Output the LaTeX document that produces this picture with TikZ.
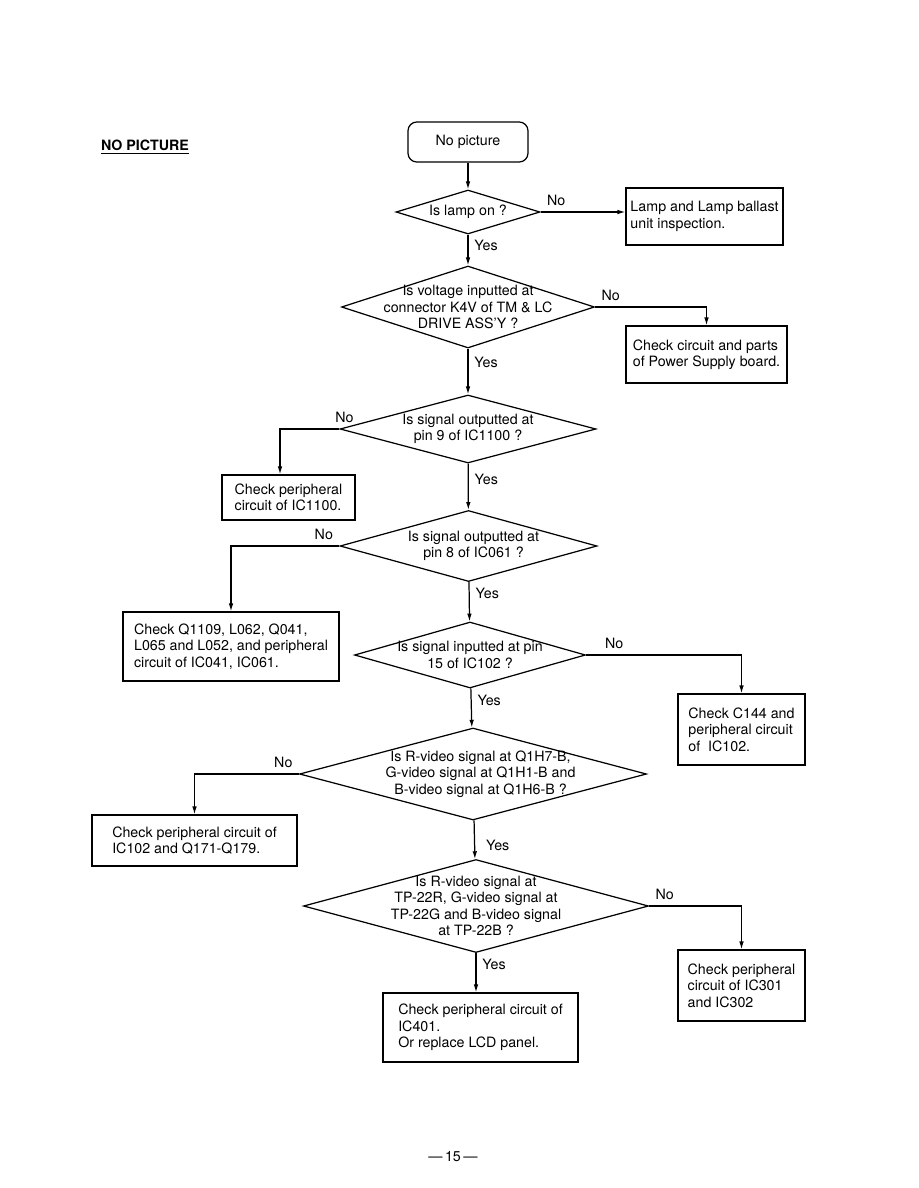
\documentclass[tikz,border=0pt]{standalone}
\usepackage{fontspec}
\setmainfont{TeX Gyre Heros}
\usetikzlibrary{arrows.meta,shapes.geometric}

\begin{document}
\begin{tikzpicture}[>={Latex[length=4.5pt,width=2.6pt]}, line width=0.7pt,
  font=\fontsize{8.1}{9.4}\selectfont,
  startbox/.style={draw, rounded corners=5pt, minimum width=2.4cm, minimum height=0.8cm},
  decision/.style 2 args={draw, diamond, inner sep=0pt, minimum width=#1, minimum height=#2},
  check/.style={draw, align=left, inner sep=0pt}]
  \useasboundingbox (0,0) rectangle (18.36,-23.76);
  \node (title) at (2.9,-2.94) {\bfseries\underline{NO PICTURE}};
  \node[startbox] (start) at (9.36,-2.84) {No picture};
  % questions
  \node[decision={2.88cm}{0.88cm}, label={center:Is lamp on ?}] (lamp) at (9.36,-4.24) {};
  \node[decision={5.06cm}{1.64cm}, label={[align=center]center:Is voltage inputted at\\connector K4V of TM \& LC\\DRIVE ASS'Y ?}] (volt) at (9.36,-6.14) {};
  \node[decision={5.12cm}{1.36cm}, label={[align=center]center:Is signal outputted at\\pin 9 of IC1100 ?}] (ic1100) at (9.36,-8.58) {};
  \node[decision={5.14cm}{1.42cm}, label={[align=center,xshift=0.1cm]center:Is signal outputted at\\pin 8 of IC061 ?}] (ic061) at (9.37,-10.92) {};
  \node[decision={4.62cm}{1.32cm}, label={[align=center]center:Is signal inputted at pin\\15 of IC102 ?}] (ic102) at (9.40,-13.10) {};
  \node[decision={6.94cm}{1.84cm}, label={[align=center,xshift=0.15cm]center:Is R-video signal at Q1H7-B,\\G-video signal at Q1H1-B and\\B-video signal at Q1H6-B ?}] (qvideo) at (9.46,-15.48) {};
  \node[decision={6.90cm}{1.86cm}, label={[align=center]center:Is R-video signal at\\TP-22R, G-video signal at\\TP-22G and B-video signal\\at TP-22B ?}] (tpvideo) at (9.52,-18.12) {};
  % checks
  \node[check, minimum width=3.14cm, minimum height=1.14cm] (ballast) at (14.09,-4.33) {Lamp and Lamp ballast\\unit inspection.};
  \node[check, minimum width=3.22cm, minimum height=1.14cm] (power) at (14.13,-7.09) {Check circuit and parts\\of Power Supply board.};
  \node[check, minimum width=2.66cm, minimum height=0.90cm] (periph1100) at (5.77,-9.95) {Check peripheral\\circuit of IC1100.};
  \node[check, minimum width=4.32cm, minimum height=1.38cm] (q1109) at (4.62,-12.93) {Check Q1109, L062, Q041,\\L065 and L052, and peripheral\\circuit of IC041, IC061.};
  \node[check, minimum width=2.54cm, minimum height=1.42cm] (c144) at (14.83,-14.59) {Check C144 and\\peripheral circuit\\of \ IC102.};
  \node[check, minimum width=4.10cm, minimum height=1.02cm] (periph102) at (3.89,-16.81) {Check peripheral circuit of\\IC102 and Q171-Q179.};
  \node[check, minimum width=2.54cm, minimum height=1.42cm] (periph301) at (14.83,-19.71) {Check peripheral\\circuit of IC301\\and IC302};
  \node[check, minimum width=3.90cm, minimum height=1.38cm] (lcd) at (9.61,-20.55) {Check peripheral circuit of\\IC401.\\Or replace LCD panel.};
  \node (page) at (9.06,-23.14) {\textemdash\,15\,\textemdash};
  % yes
  \draw[->] (start) -- (lamp);
  \draw[->] (lamp) -- (volt) node[pos=0.35, right] {Yes};
  \draw[->] (volt) -- (ic1100) node[pos=0.3, right] {Yes};
  \draw[->] (ic1100) -- (ic061) node[pos=0.35, right] {Yes};
  \draw[->] (ic061) -- (ic102) node[pos=0.3, right] {Yes};
  \draw[->] (ic102) -- (qvideo) node[pos=0.3, right] {Yes};
  \draw[->] (qvideo) -- (tpvideo) node[pos=0.65, right, xshift=0.1cm] {Yes};
  \draw[->] (tpvideo.south) -- (tpvideo.south |- lcd.north) node[pos=0.3, right] {Yes};
  % no
  \draw[->] (lamp.east) node[above right] {No} -- (lamp.east -| ballast.west);
  \draw[->] (volt.east) node[above right] {No} -| (power.north);
  \draw[->] (ic1100.west) node[above, xshift=0.1cm] {No} -| ([xshift=-0.17cm]periph1100.north);
  \draw[->] (ic061.west) node[above left] {No} -| (q1109.north);
  \draw[->] (ic102.east) node[above right, xshift=0.25cm] {No} -| (c144.north);
  \draw[->] (qvideo.west) node[above left] {No} -| (periph102.north);
  \draw[->] (tpvideo.east) node[above right] {No} -| (periph301.north);
\end{tikzpicture}
\end{document}
